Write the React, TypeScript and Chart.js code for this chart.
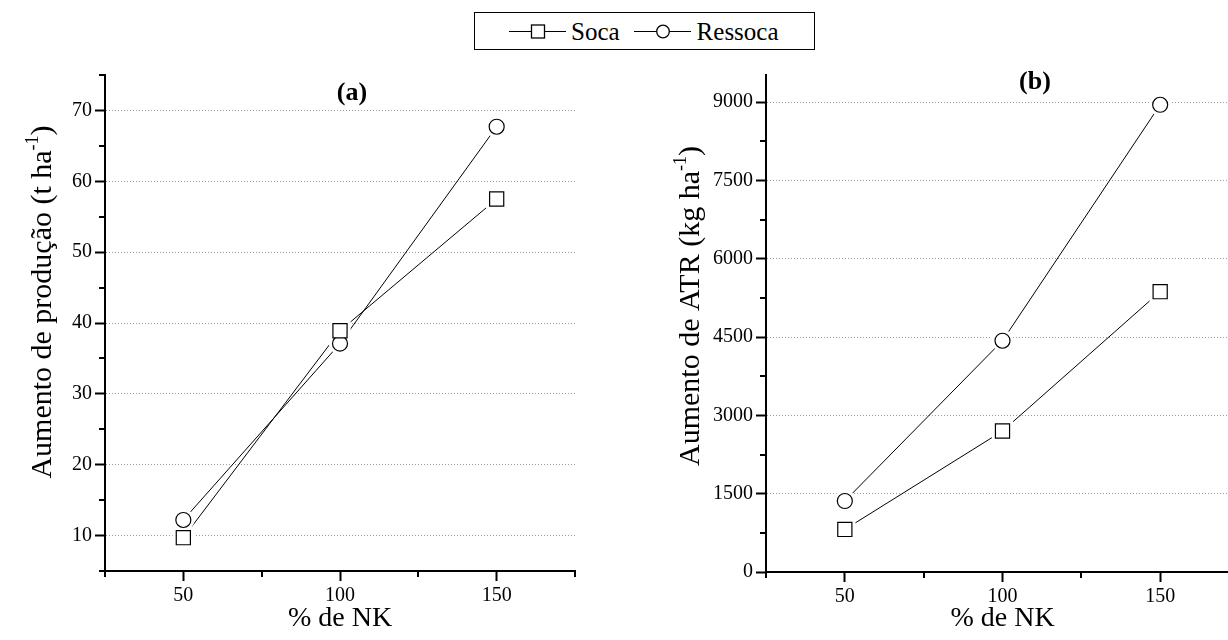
import React, { useEffect, useRef } from "react";
import { Chart, registerables } from "chart.js";

Chart.register(...registerables);

// ---------- data ----------
const nkLevels = [50, 100, 150];
const socaA = [9.7, 38.9, 57.5];
const ressocaA = [12.2, 37.1, 67.7];
const socaB = [815, 2700, 5370];
const ressocaB = [1360, 4430, 8950];

const xMajorTicks = [50, 100, 150];
const xMinorTicks = [25, 75, 125, 175];
const yMajorTicksA = [10, 20, 30, 40, 50, 60, 70];
const yMinorTicksA = [5, 15, 25, 35, 45, 55, 65, 75];
const yMajorTicksB = [0, 1500, 3000, 4500, 6000, 7500, 9000];
const yMinorTicksB = [750, 2250, 3750, 5250, 6750, 8250];

const seriesNames = ["Soca", "Ressoca"];
const xTitle = "% de NK";
const yTitleA = ["Aumento de produção (t ha", "-1", ")"];
const yTitleB = ["Aumento de ATR (kg ha", "-1", ")"];
const panelLabels = ["(a)", "(b)"];

const FONT = "'Liberation Serif', 'Times New Roman', Times, serif";
const TICK_SIZE = 20;

type Spec = {
  soca: number[];
  ressoca: number[];
  yMin: number;
  yMax: number;
  yMajor: number[];
  yMinor: number[];
  xMax: number;
  yAxisWidth: number;
  xAxisHeight: number;
  padRight: number;
  yTitle: string[];
  yTitleCenter: [number, number];
  panel: string;
  panelPos: [number, number];
};

function buildConfig(s: Spec): any {
  const pts = (ys: number[]) => nkLevels.map((x, i) => ({ x, y: ys[i] }));
  const series = [
    { ys: s.soca, style: "rect", r: 10, halo: 15 },
    { ys: s.ressoca, style: "circle", r: 7.5, halo: 11 },
  ];
  const datasets: any[] = [];
  series.forEach((se, k) => {
    datasets.push({
      label: seriesNames[k],
      data: pts(se.ys),
      showLine: true,
      borderColor: "#000",
      borderWidth: 1,
      pointRadius: 0,
      fill: false,
      order: 3,
    });
    datasets.push({
      label: seriesNames[k] + " halo",
      data: pts(se.ys),
      showLine: false,
      pointStyle: se.style,
      pointRadius: se.halo,
      pointBackgroundColor: "#fff",
      pointBorderColor: "#fff",
      pointBorderWidth: 0,
      order: 2,
    });
    datasets.push({
      label: seriesNames[k] + " marker",
      data: pts(se.ys),
      showLine: false,
      pointStyle: se.style,
      pointRadius: se.r,
      pointBackgroundColor: "#fff",
      pointBorderColor: "#000",
      pointBorderWidth: 1.2,
      order: 1,
    });
  });

  const extras = {
    id: "extras",
    afterDraw(chart: any) {
      const ctx = chart.ctx;
      const xs = chart.scales.x;
      const ys = chart.scales.y;
      ctx.save();
      ctx.strokeStyle = "#000";
      ctx.lineWidth = 2;
      xMinorTicks.forEach((v) => {
        if (v < xs.min || v > xs.max) return;
        const px = Math.round(xs.getPixelForValue(v));
        ctx.beginPath();
        ctx.moveTo(px, xs.top);
        ctx.lineTo(px, xs.top + 6);
        ctx.stroke();
      });
      s.yMinor.forEach((v) => {
        if (v < ys.min || v > ys.max) return;
        const py = Math.round(ys.getPixelForValue(v));
        ctx.beginPath();
        ctx.moveTo(ys.right - 6, py);
        ctx.lineTo(ys.right, py);
        ctx.stroke();
      });
      // y title with superscript
      const size = 30;
      const [main, sup, tail] = s.yTitle;
      const f = `${size}px ${FONT}`;
      const fs = `${Math.round(size * 0.6)}px ${FONT}`;
      ctx.fillStyle = "#000";
      ctx.translate(s.yTitleCenter[0], s.yTitleCenter[1]);
      ctx.rotate(-Math.PI / 2);
      ctx.textBaseline = "alphabetic";
      ctx.textAlign = "left";
      ctx.font = f;
      const w1 = ctx.measureText(main).width;
      const w3 = ctx.measureText(tail).width;
      ctx.font = fs;
      const w2 = ctx.measureText(sup).width;
      let x = -(w1 + w2 + w3) / 2;
      const base = size * 0.35;
      ctx.font = f;
      ctx.fillText(main, x, base);
      x += w1;
      ctx.font = fs;
      ctx.fillText(sup, x, base - size * 0.42);
      x += w2;
      ctx.font = f;
      ctx.fillText(tail, x, base);
      ctx.restore();
      // panel label
      ctx.save();
      ctx.fillStyle = "#000";
      ctx.font = `bold 26px ${FONT}`;
      ctx.textAlign = "center";
      ctx.textBaseline = "middle";
      ctx.fillText(s.panel, s.panelPos[0], s.panelPos[1]);
      ctx.restore();
    },
  };

  return {
    type: "scatter",
    data: { datasets },
    plugins: [extras],
    options: {
      responsive: false,
      animation: false,
      events: [],
      layout: { padding: { top: 75, right: s.padRight, bottom: 0, left: 0 } },
      plugins: { legend: { display: false }, tooltip: { enabled: false }, title: { display: false } },
      scales: {
        x: {
          type: "linear",
          min: 25,
          max: s.xMax,
          afterBuildTicks: (sc: any) => {
            sc.ticks = xMajorTicks.filter((v) => v <= s.xMax).map((v) => ({ value: v }));
          },
          afterFit: (sc: any) => {
            sc.height = s.xAxisHeight;
          },
          grid: { drawOnChartArea: false, drawTicks: true, tickLength: 10, tickWidth: 2, tickColor: "#000" },
          border: { display: true, color: "#000", width: 2 },
          ticks: {
            color: "#000",
            font: { family: FONT, size: TICK_SIZE },
            padding: 3,
            maxRotation: 0,
            autoSkip: false,
            callback: (v: any) => String(v),
          },
          title: {
            display: true,
            text: xTitle,
            color: "#000",
            font: { family: FONT, size: 28 },
            padding: { top: 0, bottom: 5 },
          },
        },
        y: {
          type: "linear",
          min: s.yMin,
          max: s.yMax,
          afterBuildTicks: (sc: any) => {
            sc.ticks = s.yMajor.map((v) => ({ value: v }));
          },
          afterFit: (sc: any) => {
            sc.width = s.yAxisWidth;
          },
          grid: {
            drawOnChartArea: true,
            color: "#9a9a9a",
            lineWidth: 1,
            drawTicks: true,
            tickLength: 10,
            tickWidth: 2,
            tickColor: "#000",
          },
          border: { display: true, color: "#000", width: 2, dash: [1, 2] },
          ticks: {
            color: "#000",
            font: { family: FONT, size: TICK_SIZE },
            padding: 3,
            autoSkip: false,
            callback: (v: any) => String(v),
          },
        },
      },
    },
  };
}

const specA: Spec = {
  soca: socaA,
  ressoca: ressocaA,
  yMin: 5,
  yMax: 75,
  yMajor: yMajorTicksA,
  yMinor: yMinorTicksA,
  xMax: 175,
  yAxisWidth: 105,
  xAxisHeight: 69,
  padRight: 39,
  yTitle: yTitleA,
  yTitleCenter: [40, 302],
  panel: panelLabels[0],
  panelPos: [352, 93],
};

const specB: Spec = {
  soca: socaB,
  ressoca: ressocaB,
  yMin: 0,
  yMax: 9520,
  yMajor: yMajorTicksB,
  yMinor: yMinorTicksB,
  xMax: 175,
  yAxisWidth: 152,
  xAxisHeight: 68,
  padRight: 39,
  yTitle: yTitleB,
  yTitleCenter: [74, 306],
  panel: panelLabels[1],
  panelPos: [421, 82],
};

function Panel({ spec, left, width }: { spec: Spec; left: number; width: number }) {
  const ref = useRef<HTMLCanvasElement | null>(null);
  useEffect(() => {
    if (!ref.current) return;
    const chart = new Chart(ref.current, buildConfig(spec));
    return () => chart.destroy();
  }, [spec]);
  return (
    <canvas
      ref={ref}
      width={width}
      height={640}
      style={{ position: "absolute", left, top: 0, width, height: 640 }}
    />
  );
}

function LegendSymbol({ round }: { round: boolean }) {
  return (
    <svg width={57} height={16} style={{ display: "block", flex: "none" }}>
      <line x1={0} y1={8.5} x2={57} y2={8.5} stroke="#000" strokeWidth={1.2} />
      {round ? (
        <circle cx={29} cy={8.5} r={6.3} fill="#fff" stroke="#000" strokeWidth={1.3} />
      ) : (
        <rect x={22.5} y={2} width={13} height={13} fill="#fff" stroke="#000" strokeWidth={1.3} />
      )}
    </svg>
  );
}

function Legend() {
  const text = (t: string, ml: number) => (
    <span style={{ marginLeft: ml, fontFamily: FONT, fontSize: 25, lineHeight: "25px", color: "#000", flex: "none" }}>
      {t}
    </span>
  );
  return (
    <div
      style={{
        position: "absolute",
        left: 474,
        top: 12,
        width: 341,
        height: 38,
        boxSizing: "border-box",
        border: "1px solid #000",
        background: "#fff",
        display: "flex",
        alignItems: "center",
        paddingLeft: 34,
      }}
    >
      <LegendSymbol round={false} />
      {text(seriesNames[0], 5)}
      <div style={{ width: 14, flex: "none" }} />
      <LegendSymbol round={true} />
      {text(seriesNames[1], 6)}
    </div>
  );
}

export default function App() {
  return (
    <div
      style={{
        position: "absolute",
        left: 0,
        top: 0,
        width: 1228,
        height: 640,
        background: "#fff",
        overflow: "hidden",
      }}
    >
      <Panel spec={specA} left={0} width={614} />
      <Panel spec={specB} left={614} width={664} />
      <Legend />
    </div>
  );
}
